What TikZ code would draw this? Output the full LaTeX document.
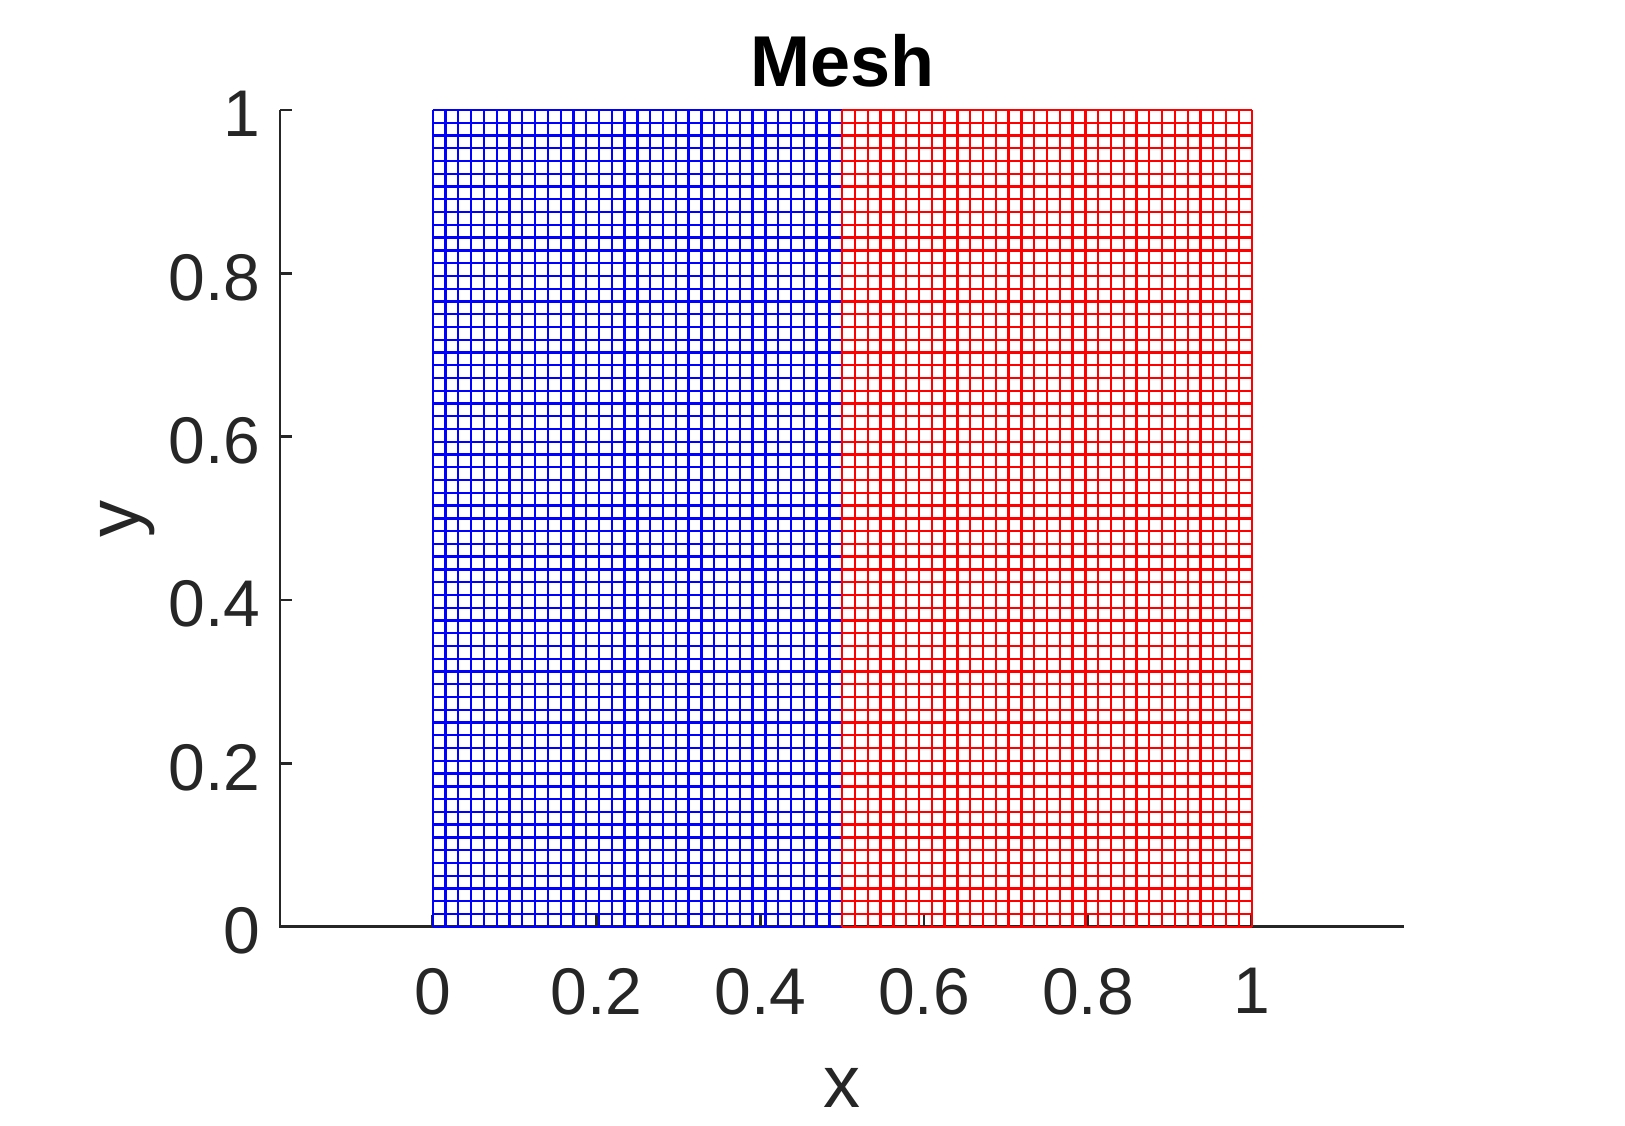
\documentclass[tikz,border=0pt]{standalone}
\usepackage{fontspec}
\setmainfont{Liberation Sans}
\usetikzlibrary{positioning}
\definecolor{axgray}{RGB}{38,38,38}
\definecolor{meshb}{RGB}{0,0,255}
\definecolor{meshr}{RGB}{255,0,0}
\tikzset{
    axisline/.style = {draw=axgray, line width=1.3pt},
    ticknode/.style = {draw=none, inner sep=0pt, text=axgray, font=\fontsize{33}{40}\selectfont},
    labelnode/.style = {draw=none, inner sep=0pt, text=axgray, font=\fontsize{37}{44}\selectfont},
    titlenode/.style = {draw=none, inner sep=0pt, font=\fontsize{36}{43}\selectfont\bfseries},
    bluemesh/.style = {draw=meshb, line width=1.15pt},
    redmesh/.style = {draw=meshr, line width=1.15pt}
}

\begin{document}
\begin{tikzpicture}[x=409.5pt, y=408.35pt]
\useasboundingbox (-0.5283,-0.2428) rectangle (1.4558,1.1347);
% axes
\coordinate (O) at (-0.1864,0);
\coordinate (xend) at (1.1864,0);
\coordinate (ytop) at (-0.1864,1);
\draw[axisline] (ytop) -- (O) -- (xend);
\foreach \v/\n in {0/0,0.2/1,0.4/2,0.6/3,0.8/4,1/5} {
  \draw[axisline] (\v,0) -- ++(0pt,6pt);
  \draw[axisline] (-0.1864,\v) -- ++(6pt,0pt);
  \node[ticknode, anchor=north, name=xt\n] at (\v,0) [yshift=-20.5pt] {\v};
  \node[ticknode, anchor=east, name=yt\n] at (-0.1864,\v) [xshift=-9.5pt, yshift=-2pt] {\v};
}
% mesh, left half blue, right half red
\foreach \i in {0,...,32} \draw[bluemesh] (\i/64,0) -- (\i/64,1);
\foreach \j in {0,...,64} \draw[bluemesh] (0,\j/64) -- (0.5,\j/64);
\foreach \i in {32,...,64} \draw[redmesh] (\i/64,0) -- (\i/64,1);
\foreach \j in {0,...,64} \draw[redmesh] (0.5,\j/64) -- (1,\j/64);
% labels
\node[titlenode, anchor=base, name=title] at (0.5,1.0285) {Mesh};
\node[labelnode, anchor=base, name=xlab] at (0.5,-0.2208) {x};
\node[labelnode, rotate=90, anchor=base, name=ylab] at (-0.3574,0.4992) {y};
\end{tikzpicture}
\end{document}
